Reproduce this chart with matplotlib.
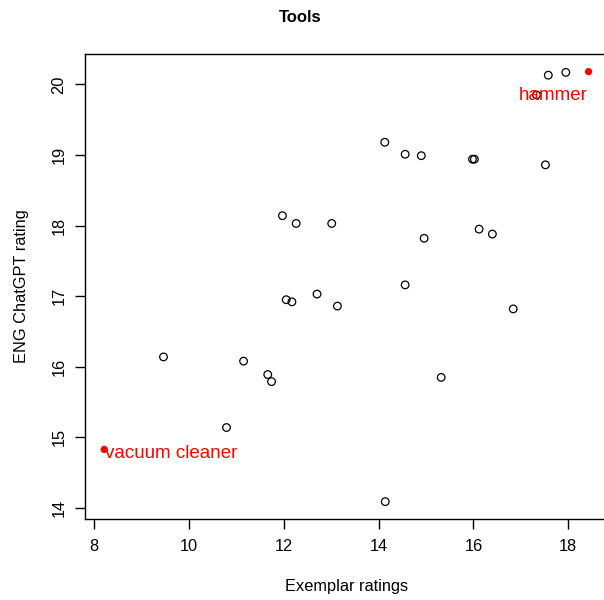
import matplotlib
matplotlib.use("Agg")
import matplotlib.pyplot as plt

plt.rcParams['font.family'] = ['Liberation Sans', 'DejaVu Sans']

# exemplar rating vs ChatGPT rating, one point per tool
exemplar = [14.13, 14.56, 14.90, 11.97, 12.26, 13.01, 14.96, 14.56, 12.05, 12.17,
            12.70, 13.13, 17.58, 17.95, 17.33, 15.98, 16.02, 17.52, 16.12, 16.40,
            16.84, 15.32, 14.14, 9.46, 11.15, 10.79, 11.66, 11.74]
chatgpt = [19.18, 19.01, 18.99, 18.14, 18.03, 18.03, 17.82, 17.16, 16.95, 16.92,
           17.03, 16.86, 20.13, 20.17, 19.85, 18.94, 18.94, 18.86, 17.95, 17.88,
           16.82, 15.85, 14.09, 16.14, 16.08, 15.14, 15.89, 15.79]

# highlighted tools
hl_names = ['hammer', 'vacuum cleaner']
hl_x = [18.43, 8.21]
hl_y = [20.18, 14.83]

fig = plt.figure(figsize=(6.04, 6.0), dpi=100)
ax = fig.add_axes([85.3 / 604, 81.4 / 600, (608 - 85.3) / 604, (518.6 - 54) / 600])

ax.scatter(exemplar, chatgpt, s=30, facecolors='none', edgecolors='black', linewidths=0.9)
ax.scatter(hl_x, hl_y, s=28, color='#ff0000', edgecolors='none')

# hammer label sits below-left of its point, vacuum cleaner to the right
ax.annotate(hl_names[0], (hl_x[0], hl_y[0]), xytext=(-1, -20.5), textcoords='offset points',
            ha='right', va='baseline', color='#ff0000', fontsize=13.5)
ax.annotate(hl_names[1], (hl_x[1], hl_y[1]), xytext=(0.5, -6.3), textcoords='offset points',
            ha='left', va='baseline', color='#ff0000', fontsize=13.5)

ax.set_xlim(7.81, 18.84)
ax.set_ylim(13.85, 20.43)
ax.set_xticks([8, 10, 12, 14, 16, 18])
ax.set_yticks([14, 15, 16, 17, 18, 19, 20])

for s in ax.spines.values():
    s.set_linewidth(1.0)
ax.tick_params(length=7.5, width=1.0, labelsize=11.8, direction='out')
ax.tick_params(axis='x', pad=7)
ax.tick_params(axis='y', pad=6)
for lab in ax.get_yticklabels():
    lab.set_rotation(90)
    lab.set_va('center')

ax.set_xlabel('Exemplar ratings', fontsize=11.8, labelpad=18)
ax.set_ylabel('ENG ChatGPT rating', fontsize=11.8, labelpad=16)
fig.text(300 / 604, 1 - 17 / 600, 'Tools', ha='center', va='center',
         fontsize=12, fontweight='bold')

fig.savefig('out.png', dpi=100)
